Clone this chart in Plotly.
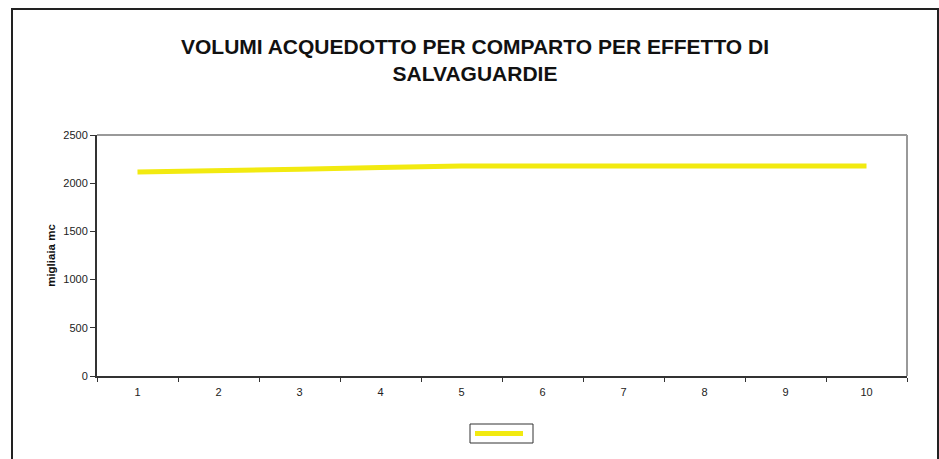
import plotly.graph_objects as go

# Periodi (1..10) e volumi in migliaia di mc
periods = [1, 2, 3, 4, 5, 6, 7, 8, 9, 10]
volumes = [2116, 2127, 2145, 2163, 2178, 2178, 2178, 2178, 2178, 2178]
y_ticks = [0, 500, 1000, 1500, 2000, 2500]

title_text = "VOLUMI ACQUEDOTTO PER COMPARTO PER EFFETTO DI<br>SALVAGUARDIE"
y_title = "migliaia mc"

LINE_COLOR = "#F2EA10"

W, H = 939, 459
L, R, T, B = 97, 32, 135, 83
pw, ph = W - L - R, H - T - B

def px_x(x):
    return (x - L) / pw

def px_y(y):
    return (H - B - y) / ph

fig = go.Figure()
fig.add_trace(go.Scatter(
    x=periods, y=volumes, mode="lines", name="",
    line=dict(color=LINE_COLOR, width=5),
    showlegend=False,
))

font = "Liberation Sans, Arial, sans-serif"

fig.update_layout(
    width=W, height=H,
    margin=dict(l=L, r=R, t=T, b=B),
    paper_bgcolor="white", plot_bgcolor="white",
    font=dict(family=font, color="#000"),
    title=dict(
        text="<b>" + title_text + "</b>",
        x=475 / W, xanchor="center", xref="container",
        y=1 - 54 / H, yanchor="middle", yref="container",
        font=dict(size=21, family=font, color="#111"),
    ),
    xaxis=dict(
        range=[0.5, 10.5], tickvals=periods, ticktext=[str(p) for p in periods],
        ticks="", showgrid=False, zeroline=False,
        showline=True, linecolor="#333", linewidth=2,
        tickfont=dict(size=11, family=font, color="#222"), ticklabelstandoff=5,
        minor=dict(tick0=0.5, dtick=1, ticks="outside", ticklen=4, tickcolor="#333", tickwidth=1, showgrid=False),
        fixedrange=True,
    ),
    yaxis=dict(
        range=[0, 2500], tickvals=y_ticks, ticks="outside", ticklen=5, tickcolor="#333",
        showgrid=False, zeroline=False,
        showline=True, linecolor="#333", linewidth=2,
        tickfont=dict(size=11, family=font, color="#222"),
        title=dict(text="<b>" + y_title + "</b>", font=dict(size=11.5, family=font, color="#111"), standoff=5),
        fixedrange=True,
    ),
    showlegend=False,
    shapes=[
        # cornice grigia del riquadro del grafico (alto e destra)
        dict(type="line", xref="paper", yref="paper", x0=0, x1=1, y0=1, y1=1,
             line=dict(color="#999", width=2), layer="below"),
        dict(type="line", xref="paper", yref="paper", x0=1, x1=1, y0=0, y1=1,
             line=dict(color="#999", width=2), layer="below"),
        # cornice esterna dell'area del grafico
        dict(type="rect", xref="paper", yref="paper",
             x0=px_x(12), x1=px_x(938), y0=px_y(470), y1=px_y(9),
             line=dict(color="#222", width=2), fillcolor="rgba(0,0,0,0)"),
        # legenda: riquadro e campione della serie
        dict(type="rect", xref="paper", yref="paper",
             x0=px_x(470), x1=px_x(533), y0=px_y(443), y1=px_y(424),
             line=dict(color="#333", width=1), fillcolor="white"),
        dict(type="line", xref="paper", yref="paper",
             x0=px_x(475), x1=px_x(523), y0=px_y(433.5), y1=px_y(433.5),
             line=dict(color=LINE_COLOR, width=5)),
    ],
)

fig.write_html("out.html")
